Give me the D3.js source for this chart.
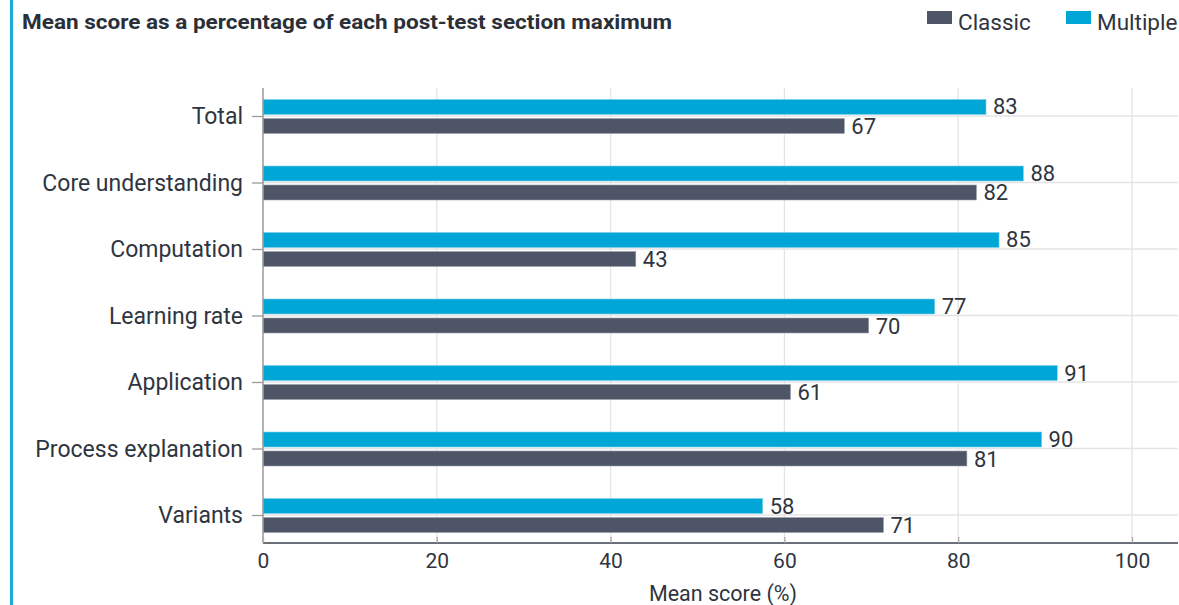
<!DOCTYPE html>
<html><head><meta charset="utf-8">
<script src="https://cdn.jsdelivr.net/npm/d3@7"></script>
<style>
body{margin:0;background:#fff;font-family:Roboto,"Noto Sans",sans-serif;}
</style></head>
<body><svg id="c" width="1179" height="605"></svg>
<script>
const categories = ["Total","Core understanding","Computation","Learning rate","Application","Process explanation","Variants"];
const seriesNames = ["Classic","Multiple"];
const classicValues = [66.9,82.1,42.9,69.7,60.7,81.0,71.4];
const multipleValues = [83.2,87.5,84.7,77.3,91.4,89.6,57.5];
const xTicks = [0,20,40,60,80,100];
const title = "Mean score as a percentage of each post-test section maximum";
const xLabel = "Mean score (%)";

(function(){
const colors = {Classic:"#4d5566", Multiple:"#00a6d6"};
const svg = d3.select("#c");
const W=1179,H=605;
const pL=263, pR=1178, pT=88, pB=543;
const txt="#2f3540";

svg.append("rect").attr("x",10).attr("y",0).attr("width",3).attr("height",H).attr("fill","#1aa9dc");

svg.append("text").attr("x",22).attr("y",29).text(title)
  .attr("font-size",20.5).attr("font-weight","bold").attr("fill","#2a2f38")
  .attr("textLength",650).attr("lengthAdjust","spacingAndGlyphs");

const leg=[{n:"Classic",x:927},{n:"Multiple",x:1066}];
leg.forEach(l=>{
  svg.append("rect").attr("x",l.x).attr("y",11).attr("width",25).attr("height",13).attr("fill",colors[l.n]);
  svg.append("text").attr("x",l.x+31).attr("y",30).text(l.n).attr("font-size",22.5).attr("fill",txt);
});

const x=d3.scaleLinear().domain([0,100]).range([pL,1132]);
const y=d3.scalePoint().domain(categories).range([pT,pB]).padding(0.421);

const g=svg.append("g");
g.selectAll(".vg").data(xTicks.slice(1)).join("line")
 .attr("x1",d=>x(d)).attr("x2",d=>x(d)).attr("y1",pT).attr("y2",pB)
 .attr("stroke","#e4e4e4").attr("stroke-width",1.3);
g.selectAll(".hg").data(categories).join("line")
 .attr("x1",pL).attr("x2",pR).attr("y1",d=>y(d)).attr("y2",d=>y(d))
 .attr("stroke","#e4e4e4").attr("stroke-width",1.3);

const barH=15, gap=4;
const data=categories.map((c,i)=>({c,Classic:classicValues[i],Multiple:multipleValues[i]}));
g.selectAll(".bm").data(data).join("rect")
 .attr("x",x(0)).attr("y",d=>y(d.c)-barH-gap/2+0.5).attr("width",d=>x(d.Multiple)-x(0)).attr("height",barH)
 .attr("fill",colors.Multiple).attr("stroke","#7fd0ea").attr("stroke-width",0.6);
g.selectAll(".bc").data(data).join("rect")
 .attr("x",x(0)).attr("y",d=>y(d.c)+gap/2+0.5).attr("width",d=>x(d.Classic)-x(0)).attr("height",barH)
 .attr("fill",colors.Classic).attr("stroke","#9aa0aa").attr("stroke-width",0.6);

const vfs=22;
const fmt=d3.format(".0f");
g.selectAll(".lm").data(data).join("text")
 .attr("x",d=>x(d.Multiple)+7).attr("y",d=>y(d.c)-barH/2-gap/2+8).text(d=>fmt(d.Multiple))
 .attr("font-size",vfs).attr("fill",txt);
g.selectAll(".lc").data(data).join("text")
 .attr("x",d=>x(d.Classic)+7).attr("y",d=>y(d.c)+barH/2+gap/2+8.5).text(d=>fmt(d.Classic))
 .attr("font-size",vfs).attr("fill",txt);

const ya=svg.append("g").attr("transform",`translate(${pL},0)`).call(d3.axisLeft(y).tickSize(11).tickPadding(9));
ya.select(".domain").attr("stroke","#9a9a9a").attr("stroke-width",1.5).attr("d",`M0,${pT}V${pB}`);
ya.selectAll(".tick line").attr("stroke","#9a9a9a").attr("stroke-width",1.3);
ya.selectAll(".tick text").attr("font-size",23).attr("fill",txt).attr("font-family","Roboto").attr("dy","0.33em");

const xa=svg.append("g").attr("transform",`translate(0,${pB})`).call(d3.axisBottom(x).tickValues(xTicks).tickSize(-6).tickPadding(10));
xa.select(".domain").attr("stroke","#3a404b").attr("stroke-width",1.6).attr("d",`M${pL},0H${pR}`);
xa.selectAll(".tick line").attr("stroke","#aaa").attr("stroke-width",1.3);
xa.selectAll(".tick text").attr("font-size",21).attr("fill",txt).attr("font-family","Roboto").attr("dy","0.71em");

svg.append("text").attr("x",723).attr("y",601).attr("text-anchor","middle").text(xLabel)
 .attr("font-size",21.5).attr("fill",txt);
})();
</script></body></html>
